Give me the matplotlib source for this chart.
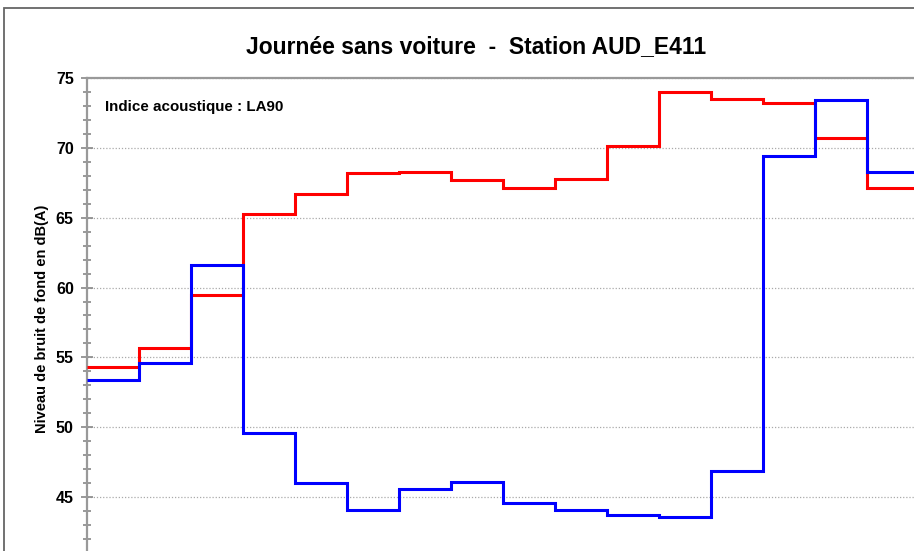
import matplotlib
matplotlib.use("Agg")
import matplotlib.pyplot as plt
from matplotlib.patches import Rectangle
from matplotlib.ticker import MultipleLocator

plt.rcParams['font.family'] = ['Liberation Sans', 'DejaVu Sans']

# Hourly LA90 background noise levels, dB(A)
hours = list(range(17))  # step edges (hour boundaries)
la90_reference = [54.3, 55.7, 59.5, 65.3, 66.7, 68.2, 68.3, 67.7, 67.1, 67.8,
                  70.1, 74.0, 73.5, 73.2, 70.7, 67.1]
la90_car_free = [53.4, 54.6, 61.6, 49.6, 46.0, 44.1, 45.6, 46.1, 44.6, 44.1,
                 43.7, 43.6, 46.9, 69.4, 73.4, 68.3]

yticks = [45, 50, 55, 60, 65, 70, 75]

W, H = 914, 551
fig = plt.figure(figsize=(W / 100, H / 100), dpi=100)

# Outer chart frame
fig.patches.append(Rectangle((4 / W, -0.2), 1.2, (H - 8) / H + 0.2,
                             transform=fig.transFigure, fill=False,
                             edgecolor='#666666', linewidth=1.3, zorder=0))

# Plot area geometry (pixels)
step_px = 52
px_per_db = 13.97
ymin, ymax = 40, 75
n_cols = 24
ax_left = 87 / W
ax_top = (H - 78) / H
ax_h = (ymax - ymin) * px_per_db / H
ax_w = n_cols * step_px / W
ax = fig.add_axes([ax_left, ax_top - ax_h, ax_w, ax_h])

ax.stairs(la90_reference, hours, color='#ff0000', linewidth=2.2, baseline=None, zorder=3)
ax.stairs(la90_car_free, hours, color='#0000ff', linewidth=2.2, baseline=None, zorder=4)

ax.set_xlim(0, n_cols)
ax.set_ylim(ymin, ymax)
ax.set_yticks(yticks)
ax.set_yticklabels([str(v) for v in yticks], fontsize=11.5, fontweight='bold')
ax.yaxis.set_minor_locator(MultipleLocator(1))
ax.tick_params(axis='y', which='major', direction='inout', length=9, width=1.2,
               color='#888888', pad=5)
ax.tick_params(axis='y', which='minor', direction='inout', length=6, width=1.2,
               color='#888888')
ax.set_xticks([])

ax.grid(axis='y', which='major', linestyle=(0, (1, 1.5)), color='#aaaaaa', linewidth=0.9)
for side in ['left', 'top']:
    ax.spines[side].set_color('#999999')
    ax.spines[side].set_linewidth(1.6)
for side in ['right', 'bottom']:
    ax.spines[side].set_visible(False)

# Y-axis title placed in figure pixels
fig.text(42 / W, (H - 319) / H, 'Niveau de bruit de fond en dB(A)',
         fontsize=10.5, fontweight='bold', rotation=90, ha='center', va='center')

fig.text(476 / W, (H - 47) / H, 'Journée sans voiture  -  Station AUD_E411',
         fontsize=16.5, fontweight='bold', ha='center', va='center')
fig.text(105 / W, (H - 107) / H, 'Indice acoustique : LA90',
         fontsize=10.9, fontweight='bold', ha='left', va='center')

fig.savefig('out.png', dpi=100)
